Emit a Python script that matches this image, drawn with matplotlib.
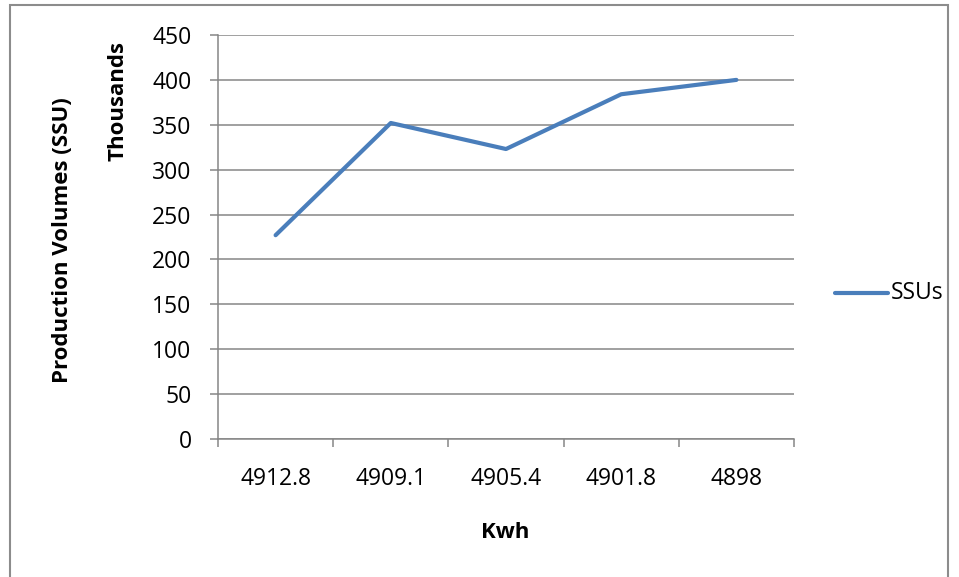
import matplotlib

matplotlib.use("Agg")

import matplotlib.pyplot as plt  # noqa: E402
from matplotlib.patches import Rectangle  # noqa: E402
from matplotlib.lines import Line2D  # noqa: E402
import numpy as np  # noqa: E402

# data (thousands of SSUs per Kwh category)
categories = ["4912.8", "4909.1", "4905.4", "4901.8", "4898"]
ssus = [227, 352, 323, 384, 400]
y_ticks = [0, 50, 100, 150, 200, 250, 300, 350, 400, 450]

LINE_COLOR = "#4a7ebb"
GRID_COLOR = "#868686"
FONT = ["Open Sans", "DejaVu Sans"]
TICK_FS = 16.5
LABEL_FS = 16

plt.rcParams["font.family"] = FONT

W, H = 959, 577
fig = plt.figure(figsize=(W / 100, H / 100), dpi=100)
fig.patch.set_facecolor("white")

# outer chart border
fig.patches.append(
    Rectangle((10 / W, -0.01), 938 / W, 1 - 5 / H + 0.01,
              transform=fig.transFigure, fill=False,
              edgecolor="#8c8c8c", linewidth=1.5)
)

ax = fig.add_axes([218 / W, 1 - 439 / H, 576 / W, 404 / H])
x = np.arange(len(categories))
ax.plot(x, ssus, color=LINE_COLOR, linewidth=3.0, solid_capstyle="round",
        solid_joinstyle="round", zorder=3)

ax.set_xlim(-0.5, len(categories) - 0.5)
ax.set_ylim(0, 450)
ax.set_yticks(y_ticks)
ax.set_yticklabels([str(v) for v in y_ticks], fontsize=TICK_FS)
ax.yaxis.grid(True, color=GRID_COLOR, linewidth=1.1)
ax.set_axisbelow(True)

# category labels at centres, tick marks at boundaries
ax.set_xticks(np.arange(-0.5, len(categories), 1.0))
ax.set_xticklabels([])
ax.set_xticks(x, minor=True)
ax.set_xticklabels(categories, minor=True, fontsize=TICK_FS)
ax.tick_params(axis="x", which="minor", length=0, pad=20)
ax.tick_params(axis="x", which="major", length=6, width=1.1,
               color=GRID_COLOR, direction="out")
ax.tick_params(axis="y", length=6, width=1.1, color=GRID_COLOR,
               direction="out", pad=13)

for side in ("top", "right"):
    ax.spines[side].set_visible(False)
for side in ("left", "bottom"):
    ax.spines[side].set_color(GRID_COLOR)
    ax.spines[side].set_linewidth(1.1)

fig.text(505 / W, 1 - 533 / H, "Kwh", ha="center", va="center",
         fontsize=LABEL_FS, fontweight="bold")
fig.text(62 / W, 1 - 240 / H, "Production Volumes (SSU)", ha="center",
         va="center", rotation=90, fontsize=LABEL_FS, fontweight="bold")
fig.text(118 / W, 1 - 101 / H, "Thousands", ha="center", va="center",
         rotation=90, fontsize=LABEL_FS, fontweight="bold")

# legend
fig.lines.append(
    Line2D([835 / W, 888 / W], [1 - 293 / H, 1 - 293 / H],
           transform=fig.transFigure, color=LINE_COLOR, linewidth=3.0,
           solid_capstyle="round")
)
fig.text(891 / W, 1 - 293 / H, "SSUs", ha="left", va="center",
         fontsize=TICK_FS)

fig.savefig("out.png", dpi=100, facecolor="white")
